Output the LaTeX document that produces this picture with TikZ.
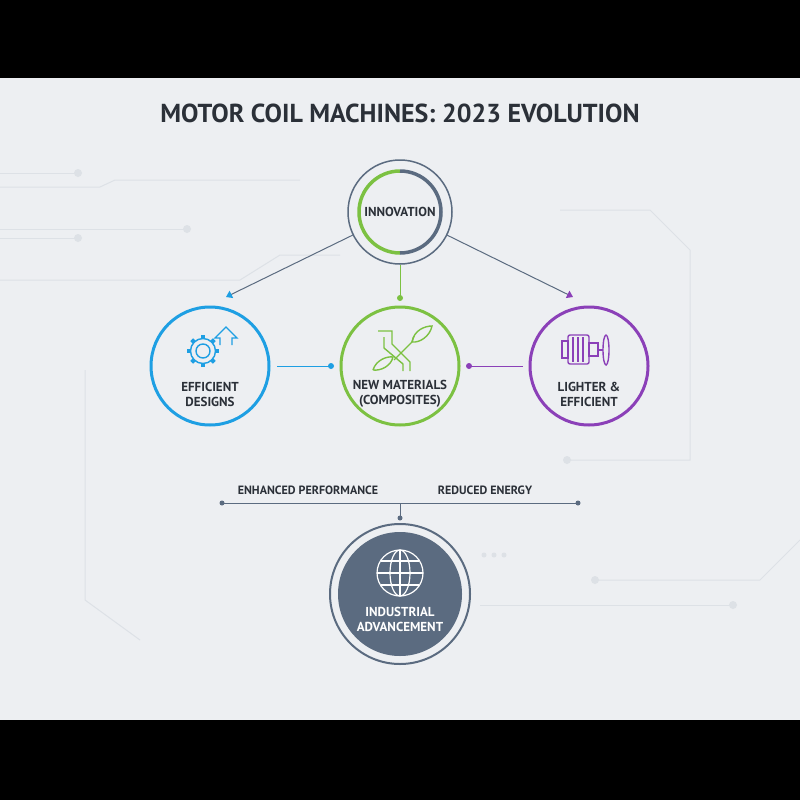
\documentclass[tikz,border=0pt]{standalone}
\usepackage{fontspec}
\setmainfont{PT Sans}
\usetikzlibrary{arrows.meta}
\definecolor{bg}{HTML}{EDEFF2}
\definecolor{dark}{HTML}{2B3038}
\definecolor{slate}{HTML}{5B6B80}
\definecolor{cblue}{HTML}{1E9FE3}
\definecolor{cgreen}{HTML}{7CC142}
\definecolor{cpurple}{HTML}{8B40B8}
\definecolor{faint}{HTML}{DDE1E6}
\tikzset{
  lbl/.style={font=\bfseries\fontsize{13}{15}\selectfont, text=dark, align=center},
  ring/.style={circle, line width=3pt, minimum size=118pt, fill=bg},
  conn/.style={line width=1pt},
  bg line/.style={faint, line width=1pt},
}
\begin{document}
\begin{tikzpicture}[x=1pt,y=-1pt]
\fill[black] (0,0) rectangle (800,800);
\fill[bg] (0,78) rectangle (800,720);
\useasboundingbox (0,0) rectangle (800,800);
% faint background circuit lines
\draw[bg line] (0,173) -- (78,173);
\fill[faint] (78,173) circle (4);
\draw[bg line] (0,187) -- (100,187) -- (115,180) -- (300,180);
\draw[bg line] (0,229) -- (185,229);
\fill[faint] (187,229) circle (4);
\draw[bg line] (0,238) -- (78,238);
\fill[faint] (78,238) circle (4);
\draw[bg line] (0,280) -- (240,280) -- (280,255) -- (340,255);
\draw[bg line] (560,210) -- (650,210) -- (690,250) -- (690,460) -- (570,460);
\fill[faint] (567,460) circle (4);
\draw[bg line] (85,370) -- (85,600) -- (140,640);
\draw[bg line] (595,580) -- (760,580) -- (800,540);
\fill[faint] (595,580) circle (4);
\draw[bg line] (480,605) -- (730,605);
\fill[faint] (733,605) circle (4);
\foreach \x in {484,494,504} \fill[faint] (\x,555) circle (2.5);
% title
\node[font=\bfseries\fontsize{26}{30}\selectfont, text=dark] (title) at (400,113) {MOTOR COIL MACHINES: 2023 EVOLUTION};
% innovation
\node[circle, draw=slate, line width=1.5pt, minimum size=104pt, fill=bg] (inn) at (400,212) {};
\draw[cgreen, line width=3.5pt] (400,171) arc[start angle=270, end angle=90, radius=41];
\draw[slate, line width=3.5pt] (400,171) arc[start angle=-90,end angle=90,radius=41];
\node[lbl, font=\bfseries\fontsize{13}{15}\selectfont] (innt) at (400,212) {INNOVATION};
% three circles
\node[ring, draw=cblue] (eff) at (210,366) {};
\node[ring, draw=cgreen] (mat) at (400,366) {};
\node[ring, draw=cpurple] (lig) at (589,366) {};
\node[lbl] at (210,394) {EFFICIENT\\DESIGNS};
\node[lbl] at (400,394) {NEW MATERIALS\\(COMPOSITES)};
\node[lbl] at (589,394) {LIGHTER \&\\EFFICIENT};
% gear icon
\begin{scope}[cblue, line width=1.4pt]
\foreach \a in {0,45,...,315} \draw[line width=4pt] (203,351) ++(\a:12) -- ++(\a:4);
\draw (203,351) circle (12.5);
\draw (203,351) circle (7);
\draw (220,345) -- (220,338) -- (215,338) -- (226,327) -- (237,338) -- (232,338) -- (232,345);
\end{scope}
% materials icon
\begin{scope}[cgreen, line width=1.4pt]
\draw (378,331) -- (392,331) -- (392,344) -- (410,362) -- (410,371);
\draw (384,337) -- (384,348) -- (403,364) -- (403,371);
\draw (394,360) -- (412,342) -- (414,336);
\draw (412,342) .. controls (414,330) and (425,326) .. (432,326) .. controls (430,336) and (420,343) .. (412,342);
\draw (373,370) .. controls (376,360) and (387,356) .. (393,357) .. controls (391,366) and (381,371) .. (373,370);
\end{scope}
% motor icon
\begin{scope}[cpurple, line width=1.4pt]
\draw[rounded corners=2pt] (568,335) rectangle (589,364);
\draw (562,341) rectangle (568,358);
\foreach \x in {573,578,583} \draw (\x,337) -- (\x,362);
\draw (589,343) rectangle (598,356);
\draw (598,350) -- (603,350);
\draw (606,350) ellipse (3 and 15);
\end{scope}
% connectors
\draw[conn, slate, -{Triangle[length=6pt,width=8pt,color=cblue]}] (inn) -- (226,297);
\draw[conn, slate, -{Triangle[length=6pt,width=8pt,color=cpurple]}] (inn) -- (573,297);
\draw[conn, cgreen] (inn.south) -- (400,298);
\fill[cgreen] (400,298) circle (3);
\draw[conn, cblue] (277,366) -- (331,366);
\fill[cblue] (331,366) circle (3);
\draw[conn, cpurple] (523,366) -- (470,366);
\fill[cpurple] (469,366) circle (3);
% bracket
\coordinate (bl) at (222,503);
\coordinate (br) at (578,503);
\coordinate (bm) at (400,503);
\coordinate (bd) at (400,518);
\draw[conn, slate] (bl) -- (br);
\draw[conn, slate] (bm) -- (bd);
\foreach \c in {bl,br,bd} \fill[slate] (\c) circle (2.5);
\node[lbl, font=\bfseries\fontsize{12}{14}\selectfont] (ep) at (308,490) {ENHANCED PERFORMANCE};
\node[lbl, font=\bfseries\fontsize{12}{14}\selectfont] (re) at (485,490) {REDUCED ENERGY};
% industrial
\node[circle, draw=slate, line width=2pt, minimum size=140pt] (ind) at (400,594) {};
\node[circle, fill=slate, minimum size=124pt] (indi) at (400,594) {};
\begin{scope}[white, line width=1.2pt]
\draw (400,573) circle (23);
\draw (400,573) ellipse (10 and 23);
\draw (400,550) -- (400,596);
\draw (377,573) -- (423,573);
\draw (381,561) -- (419,561);
\draw (381,585) -- (419,585);
\end{scope}
\node[font=\bfseries\fontsize{13}{15}\selectfont, text=white, align=center] (indt) at (400,619) {INDUSTRIAL\\ADVANCEMENT};
\end{tikzpicture}
\end{document}
